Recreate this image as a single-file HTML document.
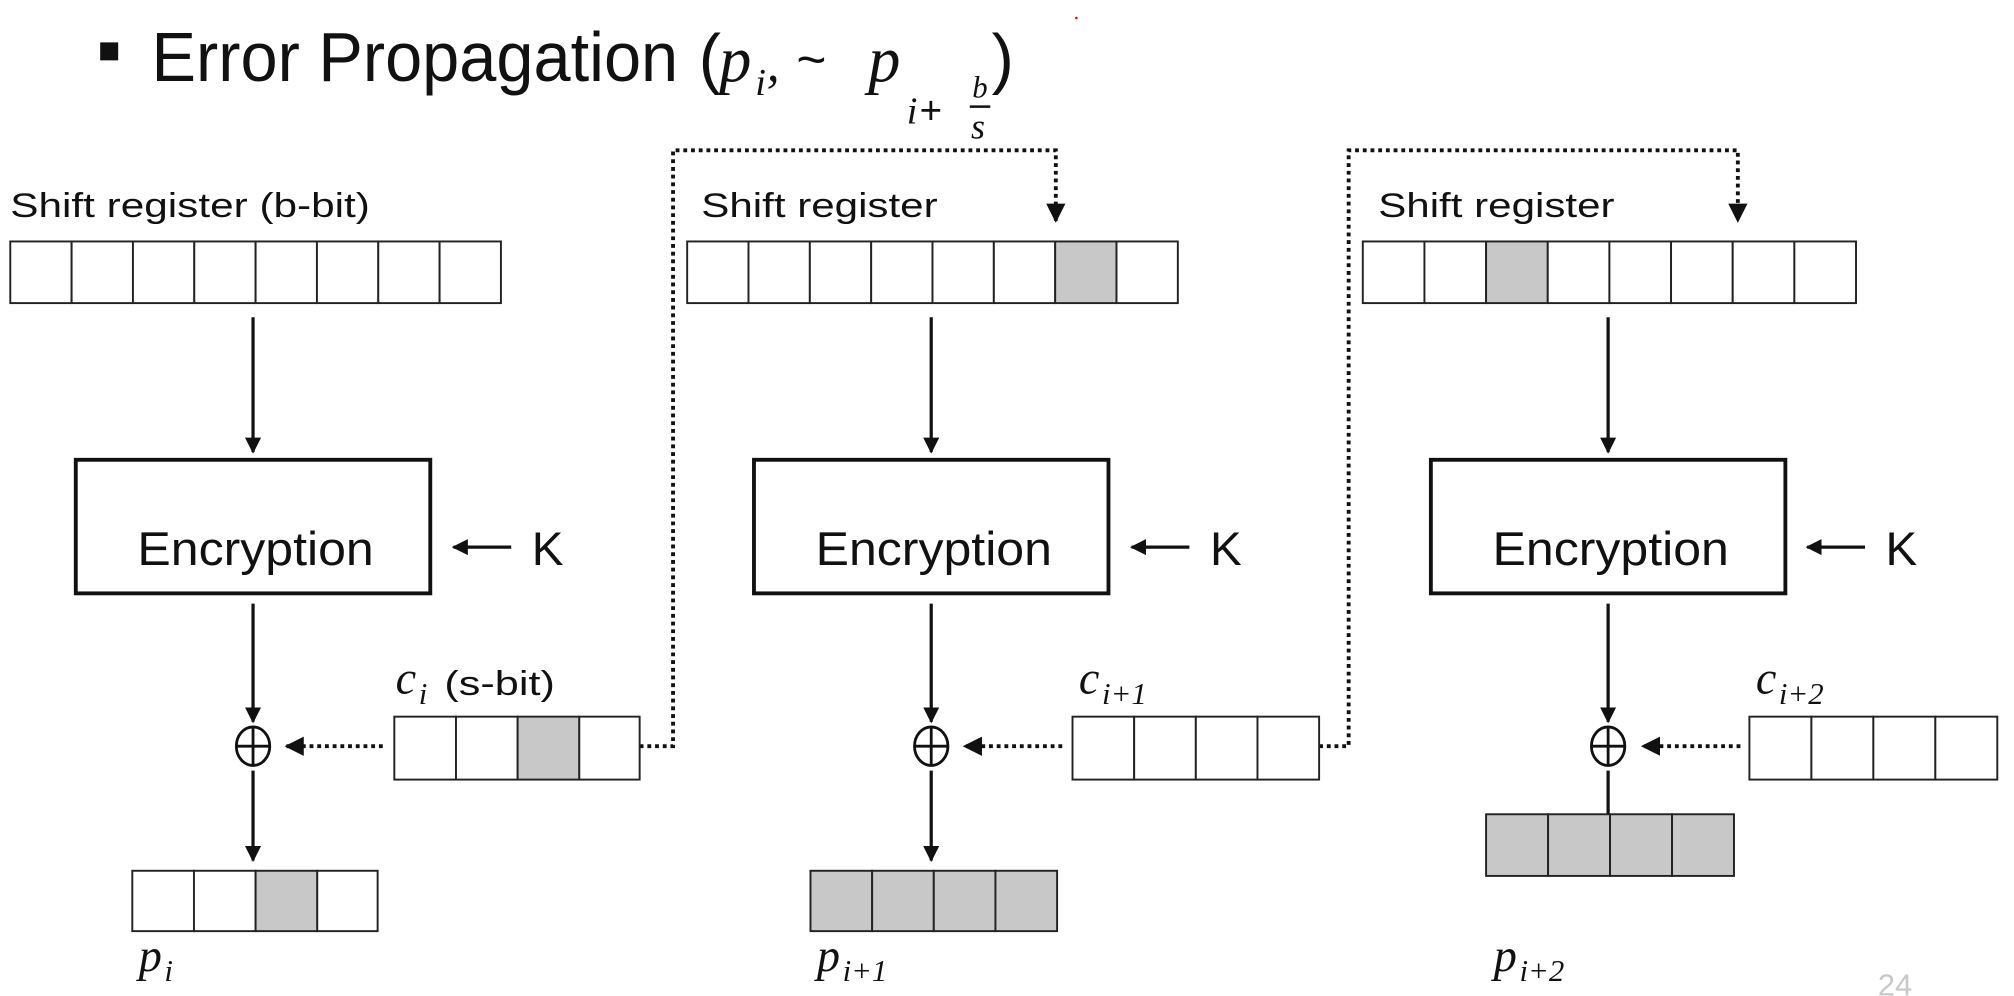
<!DOCTYPE html>
<html><head><meta charset="utf-8"><style>
html,body{margin:0;padding:0;background:#fff;width:2014px;height:996px;overflow:hidden}
svg{display:block}
.s{font-family:"Liberation Sans",sans-serif;fill:#111}
.m{font-family:"Liberation Serif",serif;font-style:italic;fill:#111}
</style></head><body>
<svg width="2014" height="996" viewBox="0 0 1568 775.5" preserveAspectRatio="none" xmlns="http://www.w3.org/2000/svg">
<defs>
<marker id="a" viewBox="0 0 10 10" refX="9" refY="5" markerWidth="5" markerHeight="5" orient="auto"><path d="M0,0 L10,5 L0,10 z" fill="#111"/></marker>
</defs>
<circle cx="838" cy="14" r="1" fill="#d00"/>
<!-- title -->
<rect x="78" y="33" width="14" height="14" fill="#111"/>
<text class="s" x="118" y="63" font-size="54" textLength="410" lengthAdjust="spacingAndGlyphs">Error Propagation</text>
<text class="s" x="544" y="63" font-size="52">(</text>
<text class="m" x="560" y="63" font-size="50">p</text>
<text class="m" x="588" y="74" font-size="30">i</text>
<text class="m" x="597" y="63" font-size="40">,</text>
<text class="s" x="620" y="60" font-size="40">~</text>
<text class="m" x="676" y="63" font-size="50">p</text>
<text class="m" x="706" y="96" font-size="30">i</text>
<text class="s" x="716" y="96" font-size="30">+</text>
<text class="m" x="757" y="76" font-size="24">b</text>
<line x1="755" y1="83" x2="771" y2="83" stroke="#111" stroke-width="2"/>
<text class="m" x="756" y="108" font-size="28">s</text>
<text class="s" x="772" y="63" font-size="52">)</text>

<g stroke="#111" fill="none">
<polyline points="498,581 524,581 524,117 822,117 822,172" stroke-width="3" stroke-dasharray="3,3" marker-end="url(#a)"/>
<polyline points="1027,581 1050,581 1050,117 1353,117 1353,172" stroke-width="3" stroke-dasharray="3,3" marker-end="url(#a)"/>
<line x1="298" y1="581" x2="223" y2="581" stroke-width="3" stroke-dasharray="3,3" marker-end="url(#a)"/>
<line x1="827" y1="581" x2="751" y2="581" stroke-width="3" stroke-dasharray="3,3" marker-end="url(#a)"/>
<line x1="1355" y1="581" x2="1279" y2="581" stroke-width="3" stroke-dasharray="3,3" marker-end="url(#a)"/>
<line x1="197" y1="247" x2="197" y2="352" stroke-width="2.5" marker-end="url(#a)"/>
<line x1="725" y1="247" x2="725" y2="352" stroke-width="2.5" marker-end="url(#a)"/>
<line x1="1252" y1="247" x2="1252" y2="352" stroke-width="2.5" marker-end="url(#a)"/>
<line x1="197" y1="470" x2="197" y2="562" stroke-width="2.5" marker-end="url(#a)"/>
<line x1="725" y1="470" x2="725" y2="562" stroke-width="2.5" marker-end="url(#a)"/>
<line x1="1252" y1="470" x2="1252" y2="562" stroke-width="2.5" marker-end="url(#a)"/>
<line x1="197" y1="600" x2="197" y2="670" stroke-width="2.5" marker-end="url(#a)"/>
<line x1="725" y1="600" x2="725" y2="670" stroke-width="2.5" marker-end="url(#a)"/>
<line x1="1252" y1="600" x2="1252" y2="634" stroke-width="2.5"/>
<line x1="398" y1="426" x2="353" y2="426" stroke-width="2.5" marker-end="url(#a)"/>
<line x1="926" y1="426" x2="881" y2="426" stroke-width="2.5" marker-end="url(#a)"/>
<line x1="1452" y1="426" x2="1407" y2="426" stroke-width="2.5" marker-end="url(#a)"/>
<rect x="59" y="358" width="276" height="104" stroke-width="3"/>
<rect x="587" y="358" width="276" height="104" stroke-width="3"/>
<rect x="1114" y="358" width="276" height="104" stroke-width="3"/>
<g stroke-width="2.2">
<ellipse cx="197" cy="581" rx="13" ry="15"/><line x1="184" y1="581" x2="210" y2="581"/><line x1="197" y1="566" x2="197" y2="596"/>
<ellipse cx="725" cy="581" rx="13" ry="15"/><line x1="712" y1="581" x2="738" y2="581"/><line x1="725" y1="566" x2="725" y2="596"/>
<ellipse cx="1252" cy="581" rx="13" ry="15"/><line x1="1239" y1="581" x2="1265" y2="581"/><line x1="1252" y1="566" x2="1252" y2="596"/>
</g>
</g>

<g stroke="#222" stroke-width="1.5">
<g fill="#fff">
<rect x="8" y="188" width="47.75" height="48"/><rect x="55.75" y="188" width="47.75" height="48"/><rect x="103.5" y="188" width="47.75" height="48"/><rect x="151.25" y="188" width="47.75" height="48"/><rect x="199" y="188" width="47.75" height="48"/><rect x="246.75" y="188" width="47.75" height="48"/><rect x="294.5" y="188" width="47.75" height="48"/><rect x="342.25" y="188" width="47.75" height="48"/>
</g>
<g fill="#fff">
<rect x="535" y="188" width="47.75" height="48"/><rect x="582.75" y="188" width="47.75" height="48"/><rect x="630.5" y="188" width="47.75" height="48"/><rect x="678.25" y="188" width="47.75" height="48"/><rect x="726" y="188" width="47.75" height="48"/><rect x="773.75" y="188" width="47.75" height="48"/><rect x="821.5" y="188" width="47.75" height="48" fill="#c8c8c8"/><rect x="869.25" y="188" width="47.75" height="48"/>
</g>
<g fill="#fff">
<rect x="1061" y="188" width="48" height="48"/><rect x="1109" y="188" width="48" height="48"/><rect x="1157" y="188" width="48" height="48" fill="#c8c8c8"/><rect x="1205" y="188" width="48" height="48"/><rect x="1253" y="188" width="48" height="48"/><rect x="1301" y="188" width="48" height="48"/><rect x="1349" y="188" width="48" height="48"/><rect x="1397" y="188" width="48" height="48"/>
</g>
<g fill="#fff">
<rect x="307" y="558" width="48" height="49"/><rect x="355" y="558" width="48" height="49"/><rect x="403" y="558" width="48" height="49" fill="#c8c8c8"/><rect x="451" y="558" width="47" height="49"/>
<rect x="835" y="558" width="48" height="49"/><rect x="883" y="558" width="48" height="49"/><rect x="931" y="558" width="48" height="49"/><rect x="979" y="558" width="48" height="49"/>
<rect x="1362" y="558" width="48.25" height="49"/><rect x="1410.25" y="558" width="48.25" height="49"/><rect x="1458.5" y="558" width="48.25" height="49"/><rect x="1506.75" y="558" width="48.25" height="49"/>
</g>
<g fill="#fff">
<rect x="103" y="678" width="48" height="47"/><rect x="151" y="678" width="48" height="47"/><rect x="199" y="678" width="48" height="47" fill="#c8c8c8"/><rect x="247" y="678" width="47" height="47"/>
</g>
<g fill="#c8c8c8">
<rect x="631" y="678" width="48" height="47"/><rect x="679" y="678" width="48" height="47"/><rect x="727" y="678" width="48" height="47"/><rect x="775" y="678" width="48" height="47"/>
<rect x="1157" y="634" width="48.25" height="48"/><rect x="1205.25" y="634" width="48.25" height="48"/><rect x="1253.5" y="634" width="48.25" height="48"/><rect x="1301.75" y="634" width="48.25" height="48"/>
</g>
</g>

<text class="s" x="8" y="169" font-size="27" textLength="280" lengthAdjust="spacingAndGlyphs">Shift register (b-bit)</text>
<text class="s" x="546" y="169" font-size="27" textLength="184" lengthAdjust="spacingAndGlyphs">Shift register</text>
<text class="s" x="1073" y="169" font-size="27" textLength="184" lengthAdjust="spacingAndGlyphs">Shift register</text>
<text class="s" x="107" y="440" font-size="37" textLength="184" lengthAdjust="spacingAndGlyphs">Encryption</text>
<text class="s" x="635" y="440" font-size="37" textLength="184" lengthAdjust="spacingAndGlyphs">Encryption</text>
<text class="s" x="1162" y="440" font-size="37" textLength="184" lengthAdjust="spacingAndGlyphs">Encryption</text>
<text class="s" x="414" y="440" font-size="37">K</text>
<text class="s" x="942" y="440" font-size="37">K</text>
<text class="s" x="1468" y="440" font-size="37">K</text>
<text class="m" x="308" y="540" font-size="36">c</text><text class="m" x="326" y="548" font-size="24">i</text>
<text class="s" x="346" y="541" font-size="27" textLength="86" lengthAdjust="spacingAndGlyphs">(s-bit)</text>
<text class="m" x="840" y="540" font-size="36">c</text><text class="m" x="858" y="548" font-size="24">i+1</text>
<text class="m" x="1367" y="540" font-size="36">c</text><text class="m" x="1385" y="548" font-size="24">i+2</text>
<text class="m" x="108" y="756" font-size="36">p</text><text class="m" x="128" y="764" font-size="24">i</text>
<text class="m" x="636" y="756" font-size="36">p</text><text class="m" x="656" y="764" font-size="24">i+1</text>
<text class="m" x="1163" y="756" font-size="36">p</text><text class="m" x="1183" y="764" font-size="24">i+2</text>
<text class="s" x="1462" y="775" font-size="24" style="fill:#c8c8c8">24</text>
</svg>
</body></html>
